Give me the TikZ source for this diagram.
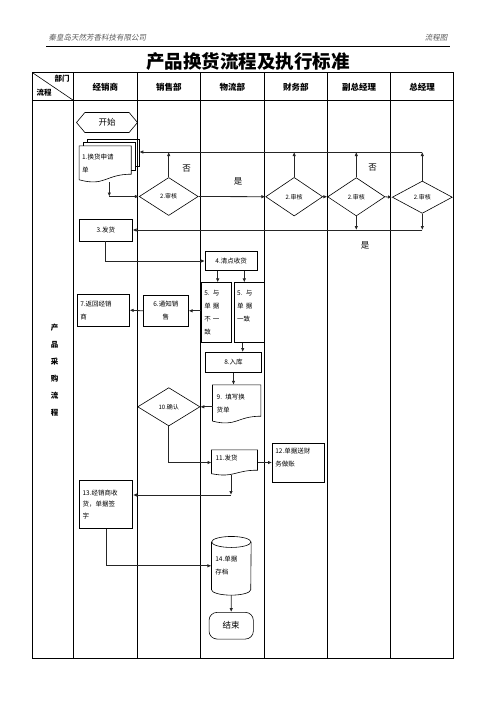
\documentclass[tikz,border=0pt]{standalone}
\usepackage{fontspec}
\setmainfont{Noto Sans CJK SC}
\newfontfamily\slantcjk{Noto Sans CJK SC}[FakeSlant=0.2]
\usetikzlibrary{shapes.geometric,shapes.symbols,arrows.meta,calc}

% outline of a document shape round a plain node
\newcommand\docshape[2]{%
  \draw[shapeline] ([yshift={0.3*#2pt}]#1.south west) -- (#1.north west) -- (#1.north east)
    -- ([yshift=#2pt]#1.south east)
    .. controls ([yshift=#2pt]#1.south) and ([yshift={-0.58*#2pt}]#1.south)
    .. ([yshift={0.3*#2pt}]#1.south west);}

\begin{document}
\begin{tikzpicture}[x=1pt,y=-1pt,
    shapeline/.style={line width=0.6pt},
    box/.style={draw,shapeline,inner sep=1pt,font=\fontsize{6.5}{13}\selectfont,align=left},
    plain/.style={inner sep=1pt,font=\fontsize{6.5}{13}\selectfont,align=left},
    check/.style={draw,shapeline,diamond,inner sep=0pt,font=\fontsize{6}{8}\selectfont},
    head/.style={font=\fontsize{8.5}{10}\bfseries\selectfont},
    note/.style={font=\fontsize{8.5}{10}\selectfont},
    arr/.style={-{Latex[length=4pt,width=3.5pt]},line width=0.8pt,draw=black!85}]
    \useasboundingbox (0,0) rectangle (496,702);

    % page header
    \node[anchor=west,text=black!65,font=\fontsize{7.5}{9}\slantcjk] (company) at (45,38) {秦皇岛天然芳香科技有限公司};
    \node[anchor=east,text=black!65,font=\fontsize{7.5}{9}\slantcjk] (doctype) at (451,38) {流程图};
    \draw[line width=0.8pt] (46,46) -- (450,46);
    \node[font=\fontsize{18.5}{20}\bfseries\selectfont] (title) at (248,62) {产品换货流程及执行标准};

    % table
    \draw[line width=0.8pt] (32.5,72.7) rectangle (453.5,658);
    \draw[line width=0.8pt] (32.5,100.3) -- (453.5,100.3);
    \foreach \x in {73.3,137.3,200.3,264.3,327.3,390.7}
        \draw[line width=0.8pt] (\x,72.7) -- (\x,658);
    \draw[line width=0.6pt] (32.5,72.7) -- (73.3,100.3);
    \node[font=\fontsize{7.5}{9}\bfseries\selectfont] (dept) at (62,79) {部门};
    \node[font=\fontsize{7.5}{9}\bfseries\selectfont] (flow) at (44,93) {流程};

    \node[head] (hd1) at (105.3,87) {经销商};
    \node[head] (hd2) at (168.8,87) {销售部};
    \node[head] (hd3) at (232.3,87) {物流部};
    \node[head] (hd4) at (295.8,87) {财务部};
    \node[head] (hd5) at (359,87) {副总经理};
    \node[head] (hd6) at (422.1,87) {总经理};

    \node[align=center,font=\fontsize{7.5}{17}\bfseries\selectfont] (stage) at (54.5,370) {产\\品\\采\\购\\流\\程};

    % shapes
    \node[draw,shapeline,signal,signal to=west and east,signal pointer angle=100,
          minimum width=61pt,minimum height=20pt,inner sep=0pt,font=\fontsize{8.5}{10}\selectfont] (start) at (107,122.5) {开始};

    \node[plain,minimum width=51.7pt,minimum height=36pt,text width=46pt] (apply) at (105.2,164) {1.换货申请\\单};
    \docshape{apply}{8}
    \draw[shapeline] ([xshift=4pt]apply.north west) -- ++(0pt,3.5pt) -| ([xshift=4pt,yshift=12pt]apply.south east) -- ([yshift=12pt]apply.south east);
    \draw[shapeline] ([xshift=8pt,yshift=3.5pt]apply.north west) -- ++(0pt,3.5pt) -| ([xshift=8pt,yshift=15.5pt]apply.south east) -- ([xshift=4pt,yshift=15.5pt]apply.south east);
    \coordinate (stackr) at ([xshift=8pt]apply.east);

    \node[check,minimum width=59pt,minimum height=38pt] (chk1) at (168.7,196.5) {2.审核};
    \node[check,minimum width=57pt,minimum height=38.6pt] (chk2) at (294.2,196.7) {2.审核};
    \node[check,minimum width=57.3pt,minimum height=38.3pt] (chk3) at (356.3,196.8) {2.审核};
    \node[check,minimum width=60pt,minimum height=32.3pt] (chk4) at (422.3,197.2) {2.审核};

    \node[box,minimum width=53pt,minimum height=22pt,align=center] (ship) at (105.8,230) {3.发货};
    \node[box,minimum width=52pt,minimum height=18.5pt,align=center] (count) at (231.2,261) {4.清点收货};
    \node[box,minimum width=29.3pt,minimum height=59.6pt,text width=24pt] (diff) at (216.3,312.5) {5. 与\\单 据\\不 一\\致};
    \node[box,minimum width=29.7pt,minimum height=59.6pt,text width=24pt] (same) at (249.2,312.5) {5. 与\\单 据\\一致\\~};
    \node[box,minimum width=45pt,minimum height=30.3pt,align=center] (notify) at (165.8,310.8) {6.通知销\\售};
    \node[box,minimum width=52pt,minimum height=31.7pt,text width=46pt] (back) at (103.3,310.2) {7.返回经销\\商};
    \node[box,minimum width=55.6pt,minimum height=20.4pt,align=center] (store) at (233.5,362.5) {8.入库};

    \node[plain,minimum width=48pt,minimum height=38pt,text width=40pt] (fill) at (236.7,404) {9. 填写换\\货单};
    \docshape{fill}{7}
    \node[check,minimum width=62.3pt,minimum height=38.3pt] (confirm) at (168.8,406.8) {10.确认};

    \node[plain,minimum width=45.6pt,minimum height=25pt,text width=38pt] (deliver) at (234.5,462.5) {11.发货\\[-3pt]~};
    \docshape{deliver}{5}
    \node[box,minimum width=52pt,minimum height=39pt,text width=46pt] (acct) at (298.3,462.8) {12.单据送财\\务做账\\[-2pt]~};
    \node[box,minimum width=53.4pt,minimum height=48.3pt,text width=47pt,font=\fontsize{6.5}{11.5}\selectfont] (recv) at (106,504.2) {13.经销商收\\货，单据签\\字};

    \node[plain,minimum width=39.3pt,minimum height=58.3pt,text width=32pt] (archive) at (231.3,565.8) {14.单据\\存档};
    \draw[shapeline] ([yshift=-5.5pt]archive.north) ellipse [x radius=19.65pt, y radius=5.5pt];
    \draw[shapeline] ([yshift=-5.5pt]archive.north west) -- ([yshift=5.5pt]archive.south west)
        arc [start angle=180, end angle=360, x radius=19.65pt, y radius=5.5pt] -- ([yshift=-5.5pt]archive.north east);

    \node[box,rounded corners=8pt,minimum width=44.3pt,minimum height=26.7pt,align=center,font=\fontsize{8.5}{10}\selectfont] (stop) at (231.2,625.7) {结束};

    % connectors
    \coordinate (c1) at (109.3,196.5);
    \draw[arr] (apply.south -| c1) -- (c1);
    \draw[arr] (c1) -- (chk1.west);
    \draw[arr] (chk1.east) -- (chk2.west);
    \draw[arr] (chk2.east) -- (chk3.west);
    \draw[arr] (chk3.east) -- (chk4.west);

    \coordinate (ctop) at (422.3,152);
    \draw[arr] (chk1.north) -- (chk1.north |- ctop);
    \draw[arr] (chk2.north) -- (chk2.north |- ctop);
    \draw[arr] (chk3.north) -- (chk3.north |- ctop);
    \draw[arr] (chk4.north) -- (chk4.north |- ctop);
    \draw[arr] (ctop) -- (stackr |- ctop);

    \draw[arr] (chk3.south) -- (chk3.south |- ship.east);
    \draw[arr] (chk4.south) -- (chk4.south |- ship.east);
    \draw[arr] (chk4.south |- ship.east) -- (ship.east);

    \node[note] (no1) at (186.7,168.3) {否};
    \node[note] (yes1) at (238,181) {是};
    \node[note] (no2) at (372.7,167.7) {否};
    \node[note] (yes2) at (365,245.7) {是};

    \draw[arr] (ship.south) |- (count.west);
    \draw[arr] (count.south -| 217.7,0) -- (217.7,0 |- diff.north);
    \draw[arr] (count.south -| 244.3,0) -- (244.3,0 |- same.north);
    \draw[arr] (diff.west |- notify.east) -- (notify.east);
    \draw[arr] (notify.west) -- (back.east);
    \draw[arr] (same.south -| 242.7,0) -- (242.7,0 |- store.north);
    \draw[arr] (store.south) -- (store.south |- fill.north);
    \draw[arr] (fill.west |- confirm.east) -- (confirm.east);
    \draw[arr] (confirm.south) |- (deliver.west);
    \draw[arr] (deliver.east) -- (deliver.east -| acct.west);

    \coordinate (c11) at (231,495);
    \draw[arr] (deliver.south -| c11) -- (c11);
    \draw[arr] (c11) -- (c11 -| recv.east);
    \draw[arr] (recv.south) |- (archive.west);
    \draw[arr] (archive.south) -- (stop.north);
\end{tikzpicture}
\end{document}
